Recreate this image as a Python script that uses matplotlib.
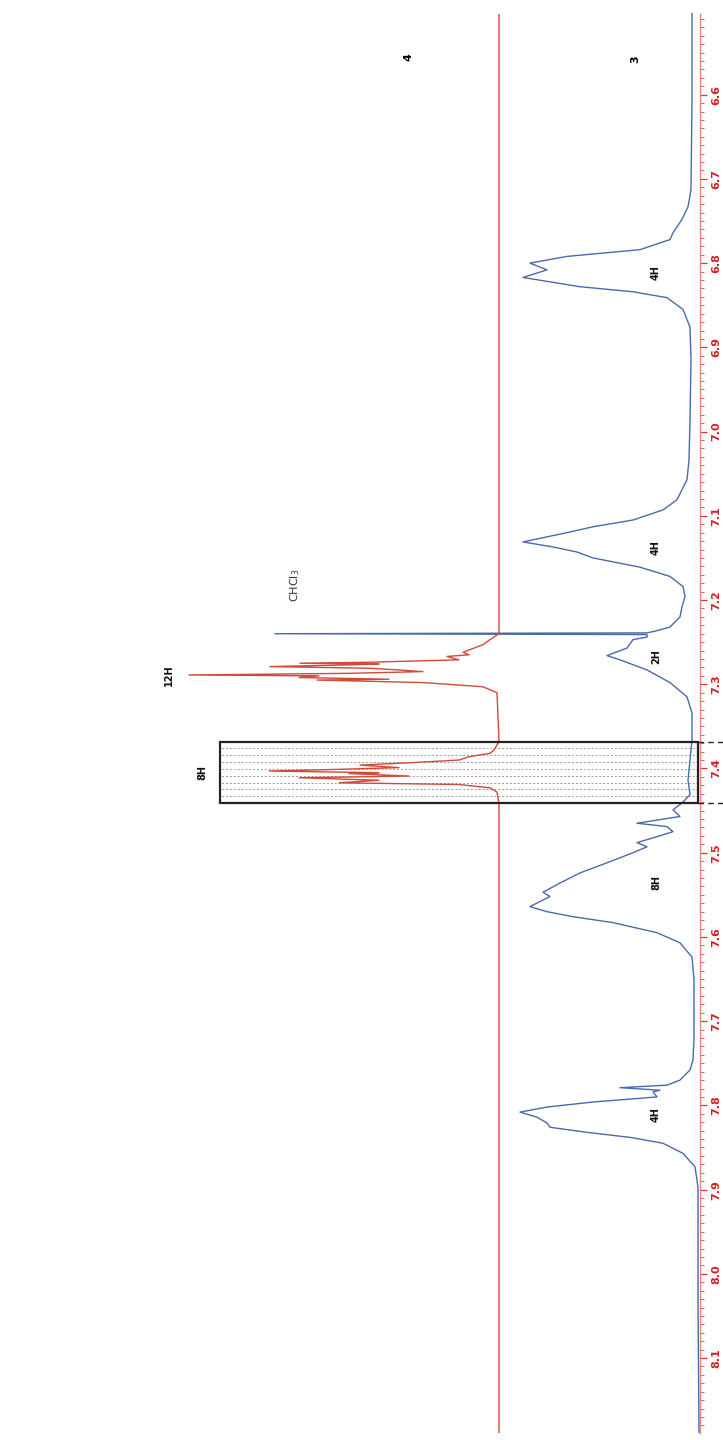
import numpy as np
import matplotlib
matplotlib.use("Agg")
import matplotlib.pyplot as plt
from matplotlib.patches import Rectangle
from matplotlib.ticker import MultipleLocator, FixedLocator

# ---------------- data ----------------
# spectrum 3 (blue): chemical shift (ppm) and intensity (arbitrary units)
blue_ppm = [6.503, 6.606, 6.713, 6.733, 6.748, 6.764, 6.772, 6.784, 6.792, 6.800,
            6.808, 6.817, 6.828, 6.834, 6.841, 6.855, 6.876, 6.915, 6.986, 7.034,
            7.057, 7.081, 7.093, 7.105, 7.113, 7.120, 7.131, 7.137, 7.143, 7.150,
            7.161, 7.172, 7.184, 7.196, 7.208, 7.220, 7.232, 7.237, 7.2390, 7.2400,
            7.2410, 7.244, 7.247, 7.257, 7.266, 7.271, 7.283, 7.298, 7.315, 7.334,
            7.366, 7.390, 7.414, 7.431, 7.441, 7.449, 7.457, 7.465, 7.469, 7.475,
            7.481, 7.488, 7.493, 7.500, 7.512, 7.524, 7.536, 7.547, 7.552, 7.558,
            7.564, 7.570, 7.576, 7.583, 7.595, 7.607, 7.624, 7.651, 7.722, 7.746,
            7.758, 7.770, 7.776, 7.779, 7.782, 7.784, 7.790, 7.796, 7.802, 7.808,
            7.814, 7.821, 7.826, 7.832, 7.838, 7.845, 7.857, 7.873, 7.897, 8.031,
            8.189]
blue_int = [1, 1, 2, 5, 11, 20, 23, 53, 126, 163,
            146, 170, 113, 60, 26, 10, 3, 2, 3, 4,
            6, 16, 30, 60, 100, 126, 170, 140, 116, 100,
            53, 23, 10, 8, 11, 13, 23, 38, 46, 418,
            46, 46, 60, 66, 86, 73, 46, 23, 6, 1,
            1, 3, 5, 3, 11, 20, 13, 56, 26, 20,
            36, 56, 46, 60, 86, 113, 133, 150, 143, 153,
            163, 146, 120, 80, 36, 13, 1, -1, -1, 0,
            3, 13, 26, 73, 33, 40, 36, 100, 146, 173,
            156, 146, 143, 106, 63, 30, 10, -2, -5, -5,
            -6]

# spectrum 4 (red)
red_ppm = [6.505, 7.240, 7.247, 7.253, 7.262, 7.265, 7.267, 7.271, 7.274, 7.275,
           7.276, 7.277, 7.279, 7.281, 7.283, 7.285, 7.287, 7.289, 7.290, 7.292,
           7.294, 7.295, 7.298, 7.303, 7.310, 7.368, 7.378, 7.382, 7.386, 7.390,
           7.393, 7.396, 7.399, 7.401, 7.403, 7.405, 7.406, 7.409, 7.411, 7.414,
           7.417, 7.419, 7.423, 7.428, 7.441, 8.189]
red_int = [0, 0, 9, 16, 36, 30, 52, 40, 136, 199,
           120, 150, 229, 130, 100, 76, 150, 310, 180, 200,
           110, 182, 76, 16, 2, 0, 5, 9, 30, 40,
           86, 139, 100, 160, 230, 120, 150, 90, 200, 120,
           160, 40, 9, 2, 0, 0]

tick_values = [6.6, 6.7, 6.8, 6.9, 7.0, 7.1, 7.2, 7.3, 7.4, 7.5, 7.6, 7.7, 7.8, 7.9, 8.0, 8.1]
tick_labels = ["6.6", "6.7", "6.8", "6.9", "7.0", "7.1", "7.2", "7.3", "7.4", "7.5",
               "7.6", "7.7", "7.8", "7.9", "8.0", "8.1"]

blue_peak_labels = ["4H", "4H", "2H", "8H", "4H"]
blue_peak_ppm = [6.811, 7.138, 7.267, 7.535, 7.811]

red_peak_labels = ["12H", "8H"]
red_peak_ppm = [7.289, 7.405]

spectrum_names = ["3", "4"]
solvent_label = "CHCl$_3$"
highlight_range = (7.368, 7.441)

# ---------------- styling / layout ----------------
W, H = 723, 1440
fig = plt.figure(figsize=(W / 100, H / 100), dpi=100)
ax = fig.add_axes([0, 7 / H, 700 / W, 1420 / H])
ax.set_ylim(8.189, 6.503)
ax.set_xlim(693, -7)

blue_c = "#4a6aab"
red_c = "#d04a36"
red_offset = 194

ax.plot(blue_int, blue_ppm, color=blue_c, lw=1.0, zorder=3)
ax.plot(np.array(red_int) + red_offset, red_ppm, color=red_c, lw=1.0, zorder=3)

# highlighted box
bx0 = -5
bx1 = 473
ax.add_patch(Rectangle((bx0, highlight_range[0]), bx1 - bx0,
                       highlight_range[1] - highlight_range[0],
                       facecolor="none", edgecolor="#222222", lw=1.6, zorder=4))
for yy in np.linspace(highlight_range[0], highlight_range[1], 10)[1:-1]:
    ax.plot([bx0, bx1], [yy, yy], color="#9a9a9a", lw=0.7,
            ls=(0, (2, 2)), zorder=2)
for yy in highlight_range:
    ax.plot([bx0, -40], [yy, yy], color="#222222", lw=1.0, ls=(0, (4, 3)),
            clip_on=False, zorder=4)

# axis styling
for s in ["left", "top", "bottom"]:
    ax.spines[s].set_visible(False)
ax.spines["right"].set_color("#e58a7a")
ax.spines["right"].set_linestyle((0, (2, 1)))
ax.spines["right"].set_linewidth(1.0)
ax.set_xticks([])
ax.yaxis.tick_right()
ax.yaxis.set_major_locator(FixedLocator(tick_values))
ax.set_yticklabels(tick_labels)
ax.yaxis.set_minor_locator(MultipleLocator(0.01))
ax.tick_params(axis="y", which="major", length=5, width=0.9, color="#d83a2a",
               labelcolor="#d42020", labelsize=8, pad=3)
ax.tick_params(axis="y", which="minor", length=3, width=0.7, color="#e06050")
for lab in ax.get_yticklabels():
    lab.set_rotation(90)
    lab.set_va("center")
    lab.set_fontweight("bold")

# labels
txt_kw = dict(rotation=90, ha="center", va="center", fontweight="bold",
              fontsize=7, color="#111111")
for lab, p in zip(blue_peak_labels, blue_peak_ppm):
    ax.text(37, p, lab, **txt_kw)
ax.text(red_offset + 330, red_peak_ppm[0], red_peak_labels[0], **txt_kw)
ax.text(bx1 + 18, red_peak_ppm[1], red_peak_labels[1], **txt_kw)
ax.text(58, 6.558, spectrum_names[0], rotation=90, ha="center", va="center",
        fontweight="bold", fontsize=8)
ax.text(285, 6.555, spectrum_names[1], rotation=90, ha="center", va="center",
        fontweight="bold", fontsize=8)
ax.text(398, 7.182, solvent_label, rotation=90, ha="center", va="center",
        fontsize=8, color="#333333")

fig.savefig("out.png", dpi=100)
